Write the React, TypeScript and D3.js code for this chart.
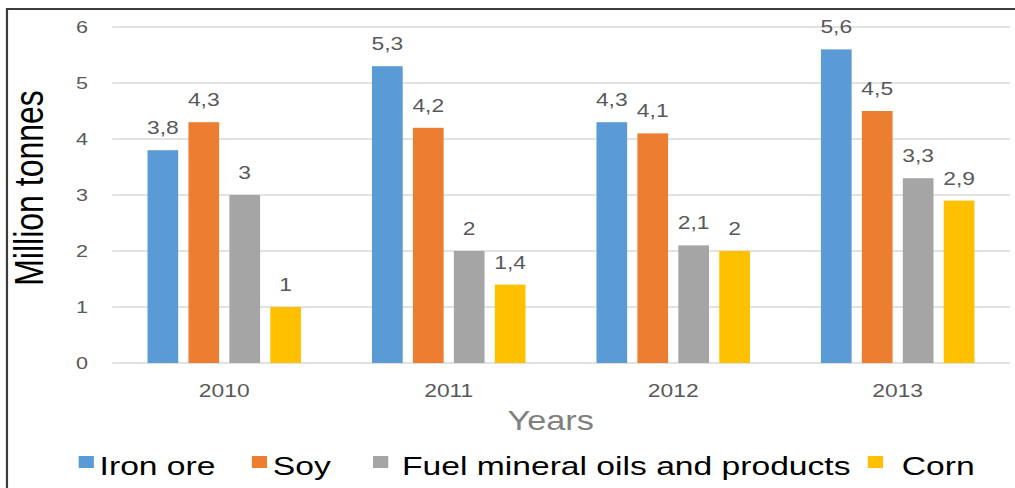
import React from 'react'
import * as d3 from 'd3'

const years = ['2010', '2011', '2012', '2013']
const ironOre = [3.8, 5.3, 4.3, 5.6]
const soy = [4.3, 4.2, 4.1, 4.5]
const fuelOils = [3, 2, 2.1, 3.3]
const corn = [1, 1.4, 2, 2.9]
const seriesNames = ['Iron ore', 'Soy', 'Fuel mineral oils and products', 'Corn']
const yTicks = [0, 1, 2, 3, 4, 5, 6]

const colors = ['#5b9bd5', '#ed7d31', '#a5a5a5', '#ffc000']
// legend square x and text gap, in drawing units
const legendX = [62, 198.5, 294, 684]
const legendTextGap = [16.5, 16.5, 22.9, 26.8]

// the reference is a stretched picture: draw in 800 units and stretch to 1015px
const W = 800
const H = 488
const font = '"Liberation Sans", Arial, sans-serif'
const commaFormat = d3.formatLocale({ decimal: ',', thousands: '.', grouping: [3], currency: ['', ''] }).format('~g')

export default function App() {
  const series = [ironOre, soy, fuelOils, corn]
  const x0 = d3.scaleBand().domain(years).range([88.3, 796]).padding(0)
  const bw = x0.bandwidth()
  const groupW = 121
  const x1 = d3.scaleBand<number>()
    .domain(d3.range(series.length))
    .range([(bw - groupW) / 2, (bw + groupW) / 2])
    .paddingInner(0.25)
  const y = d3.scaleLinear().domain([0, 6]).range([363, 27])

  return (
    <svg
      width={1015}
      height={H}
      viewBox={`0 0 ${W} ${H}`}
      preserveAspectRatio="none"
      style={{ position: 'absolute', left: 0, top: 0, display: 'block', background: '#fff' }}
      fontFamily={font}
    >
      <rect x={0} y={0} width={W} height={H} fill="#fff" />
      <path d={`M5.5,${H + 5} V9 H${W + 5}`} fill="none" stroke="#3c3c3c" strokeWidth={2.2} vectorEffect="non-scaling-stroke" />

      {yTicks.map(t => (
        <g key={`y_${t}`}>
          <line x1={88.3} x2={796} y1={y(t)} y2={y(t)} stroke="#d9d9d9" strokeWidth={1.3} vectorEffect="non-scaling-stroke" />
          <text x={69.4} y={y(t)} dy="0.35em" textAnchor="end" fontSize={17} fill="#595959">{t}</text>
        </g>
      ))}

      {years.map((yr, i) => (
        <g key={yr} transform={`translate(${x0(yr)},0)`}>
          {series.map((vals, s) => {
            const v = vals[i]
            const bx = x1(s) as number
            return (
              <g key={s}>
                <rect x={bx} y={y(v)} width={x1.bandwidth()} height={y(0) - y(v)} fill={colors[s]} />
                <text x={bx + x1.bandwidth() / 2} y={y(v) - 16} textAnchor="middle" fontSize={18} fill="#595959">
                  {commaFormat(v)}
                </text>
              </g>
            )
          })}
          <text x={bw / 2} y={397} textAnchor="middle" fontSize={18} fill="#595959">{yr}</text>
        </g>
      ))}

      <text x={434} y={430} textAnchor="middle" fontSize={27} fill="#808080">Years</text>

      <text transform="translate(33.9,188) rotate(-90)" textAnchor="middle" fontSize={32} fill="#000">
        Million tonnes
      </text>

      {seriesNames.map((name, s) => (
        <g key={name} transform={`translate(${legendX[s]},0)`}>
          <rect x={0} y={456} width={12} height={12} fill={colors[s]} />
          <text x={legendTextGap[s]} y={475} fontSize={26.5} fill="#000">{name}</text>
        </g>
      ))}
    </svg>
  )
}
